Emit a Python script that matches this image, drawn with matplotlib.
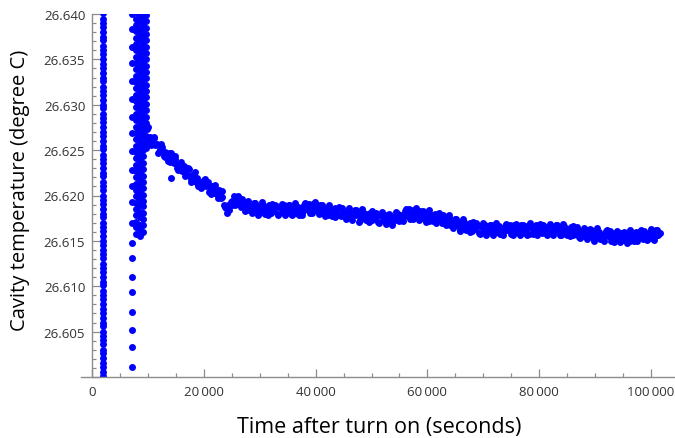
import numpy as np
import matplotlib
matplotlib.use('Agg')
from matplotlib import pyplot as plt
from matplotlib.ticker import MultipleLocator, FuncFormatter

plt.rcParams['font.family'] = ['Open Sans', 'DejaVu Sans']

# spike right after turn on (t ~ 2000 s), runs through the whole range
spike_a_time = 2000.0
spike_a_temp = [
    26.5996, 26.6001, 26.6006, 26.6011, 26.6015, 26.6021, 26.6026, 26.6030, 26.6036, 26.6041,
    26.6045, 26.6050, 26.6056, 26.6060, 26.6065, 26.6071, 26.6075, 26.6080, 26.6086, 26.6090,
    26.6095, 26.6101, 26.6105, 26.6110, 26.6116, 26.6120, 26.6125, 26.6131, 26.6135, 26.6140,
    26.6146, 26.6150, 26.6155, 26.6161, 26.6165, 26.6170, 26.6176, 26.6180, 26.6185, 26.6191,
    26.6195, 26.6200, 26.6206, 26.6210, 26.6215, 26.6221, 26.6225, 26.6230, 26.6236, 26.6240,
    26.6245, 26.6251, 26.6255, 26.6260, 26.6266, 26.6270, 26.6275, 26.6281, 26.6285, 26.6290,
    26.6296, 26.6300, 26.6305, 26.6311, 26.6315, 26.6320, 26.6326, 26.6330, 26.6335, 26.6341,
    26.6345, 26.6350, 26.6356, 26.6360, 26.6365, 26.6371, 26.6375, 26.6380, 26.6386, 26.6390,
    26.6395, 26.6401]

# sparse points at t ~ 7200 s
spike_b_time = 7200.0
spike_b_temp = [
    26.6400, 26.6383, 26.6364, 26.6346, 26.6326, 26.6306, 26.6287, 26.6269, 26.6249, 26.6228,
    26.6210, 26.6193, 26.6170, 26.6148, 26.6131, 26.6110, 26.6094, 26.6072, 26.6052, 26.6033,
    26.6011]

# dense block between 7900 and 9700 s
block_times = [7900.0, 8500.0, 9100.0, 9700.0]
block_c1 = [
    26.6158, 26.6165, 26.6171, 26.6179, 26.6185, 26.6192, 26.6200, 26.6206, 26.6213, 26.6220,
    26.6227, 26.6234, 26.6241, 26.6248, 26.6255, 26.6262, 26.6269, 26.6276, 26.6283, 26.6290,
    26.6297, 26.6304, 26.6311, 26.6318, 26.6325, 26.6332, 26.6339, 26.6346, 26.6353, 26.6360,
    26.6367, 26.6374, 26.6381, 26.6388, 26.6395, 26.6402]
block_c2 = [
    26.6155, 26.6162, 26.6168, 26.6176, 26.6182, 26.6189, 26.6196, 26.6203, 26.6210, 26.6217,
    26.6224, 26.6231, 26.6238, 26.6245, 26.6252, 26.6259, 26.6266, 26.6273, 26.6280, 26.6287,
    26.6294, 26.6301, 26.6308, 26.6315, 26.6322, 26.6329, 26.6336, 26.6343, 26.6350, 26.6357,
    26.6364, 26.6371, 26.6378, 26.6385, 26.6392, 26.6399, 26.6406]
block_c3 = [
    26.6160, 26.6167, 26.6174, 26.6181, 26.6188, 26.6194, 26.6201, 26.6208, 26.6215, 26.6222,
    26.6229, 26.6236, 26.6243, 26.6250, 26.6257, 26.6264, 26.6271, 26.6278, 26.6285, 26.6292,
    26.6299, 26.6306, 26.6313, 26.6320, 26.6327, 26.6334, 26.6341, 26.6348, 26.6355, 26.6362,
    26.6369, 26.6376, 26.6383, 26.6390, 26.6397, 26.6404]
block_c4 = [
    26.6252, 26.6259, 26.6266, 26.6273, 26.6280, 26.6287, 26.6294, 26.6301, 26.6308, 26.6315,
    26.6322, 26.6329, 26.6336, 26.6343, 26.6350, 26.6357, 26.6364, 26.6371, 26.6378, 26.6385,
    26.6392, 26.6399, 26.6406]

# settling curve, one sample every 300 s from 9800 s
curve_start = 9800.0
curve_step = 300.0
curve_temp = [
    26.6273, 26.6263, 26.6264, 26.6259, 26.6264, 26.6256, 26.6257, 26.6248, 26.6251, 26.6253,
    26.6244, 26.6248, 26.6243, 26.6247, 26.6237, 26.6241, 26.6236, 26.6240, 26.6230, 26.6235,
    26.6232, 26.6227, 26.6232, 26.6227, 26.6223, 26.6229, 26.6218, 26.6223, 26.6219, 26.6215,
    26.6219, 26.6211, 26.6215, 26.6211, 26.6217, 26.6210, 26.6212, 26.6204, 26.6208, 26.6211,
    26.6203, 26.6207, 26.6202, 26.6206, 26.6197, 26.6198, 26.6190, 26.6186, 26.6181, 26.6184,
    26.6193, 26.6194, 26.6200, 26.6194, 26.6191, 26.6197, 26.6187, 26.6192, 26.6188, 26.6186,
    26.6191, 26.6184, 26.6188, 26.6185, 26.6192, 26.6185, 26.6188, 26.6181, 26.6186, 26.6189,
    26.6182, 26.6187, 26.6184, 26.6189, 26.6181, 26.6186, 26.6183, 26.6188, 26.6180, 26.6187,
    26.6186, 26.6182, 26.6189, 26.6185, 26.6183, 26.6189, 26.6180, 26.6186, 26.6183, 26.6181,
    26.6187, 26.6181, 26.6186, 26.6183, 26.6190, 26.6185, 26.6188, 26.6181, 26.6187, 26.6191,
    26.6184, 26.6189, 26.6185, 26.6189, 26.6181, 26.6186, 26.6182, 26.6186, 26.6178, 26.6185,
    26.6183, 26.6179, 26.6186, 26.6182, 26.6179, 26.6186, 26.6177, 26.6182, 26.6180, 26.6177,
    26.6183, 26.6176, 26.6181, 26.6178, 26.6184, 26.6178, 26.6181, 26.6173, 26.6178, 26.6182,
    26.6175, 26.6180, 26.6177, 26.6181, 26.6173, 26.6178, 26.6175, 26.6179, 26.6171, 26.6178,
    26.6177, 26.6173, 26.6179, 26.6175, 26.6172, 26.6178, 26.6170, 26.6176, 26.6175, 26.6173,
    26.6180, 26.6174, 26.6179, 26.6177, 26.6183, 26.6177, 26.6181, 26.6174, 26.6180, 26.6184,
    26.6177, 26.6182, 26.6178, 26.6183, 26.6175, 26.6180, 26.6176, 26.6180, 26.6172, 26.6179,
    26.6178, 26.6173, 26.6180, 26.6175, 26.6173, 26.6179, 26.6170, 26.6176, 26.6172, 26.6170,
    26.6175, 26.6167, 26.6172, 26.6168, 26.6174, 26.6168, 26.6170, 26.6162, 26.6167, 26.6171,
    26.6163, 26.6168, 26.6165, 26.6170, 26.6161, 26.6166, 26.6163, 26.6167, 26.6159, 26.6166,
    26.6165, 26.6161, 26.6168, 26.6164, 26.6161, 26.6168, 26.6159, 26.6165, 26.6162, 26.6160,
    26.6166, 26.6159, 26.6164, 26.6161, 26.6168, 26.6162, 26.6165, 26.6158, 26.6163, 26.6167,
    26.6160, 26.6165, 26.6162, 26.6167, 26.6159, 26.6164, 26.6161, 26.6166, 26.6158, 26.6165,
    26.6164, 26.6160, 26.6167, 26.6163, 26.6161, 26.6168, 26.6159, 26.6165, 26.6162, 26.6160,
    26.6166, 26.6159, 26.6165, 26.6161, 26.6168, 26.6161, 26.6164, 26.6157, 26.6162, 26.6166,
    26.6158, 26.6163, 26.6160, 26.6165, 26.6156, 26.6161, 26.6158, 26.6162, 26.6154, 26.6161,
    26.6159, 26.6155, 26.6162, 26.6158, 26.6156, 26.6162, 26.6153, 26.6159, 26.6156, 26.6154,
    26.6160, 26.6153, 26.6157, 26.6155, 26.6161, 26.6155, 26.6157, 26.6150, 26.6155, 26.6159,
    26.6152, 26.6157, 26.6154, 26.6159, 26.6151, 26.6156, 26.6153, 26.6158, 26.6150, 26.6157,
    26.6157, 26.6153, 26.6160, 26.6156, 26.6154, 26.6161, 26.6152, 26.6159, 26.6156, 26.6154,
    26.6160, 26.6153, 26.6158, 26.6155, 26.6162, 26.6156, 26.6159]

# outer edge readings of the same curve, one every 600 s from 9950 s
edge_start = 9950.0
edge_step = 600.0
edge_temp = [
    26.6275, 26.6256, 26.6263, 26.6247, 26.6257, 26.6242, 26.6238, 26.6247, 26.6243, 26.6228,
    26.6237, 26.6222, 26.6230, 26.6215, 26.6226, 26.6211, 26.6208, 26.6218, 26.6215, 26.6202,
    26.6212, 26.6197, 26.6205, 26.6187, 26.6189, 26.6189, 26.6189, 26.6199, 26.6196, 26.6183,
    26.6194, 26.6181, 26.6192, 26.6179, 26.6193, 26.6180, 26.6179, 26.6191, 26.6190, 26.6179,
    26.6191, 26.6179, 26.6190, 26.6178, 26.6192, 26.6179, 26.6179, 26.6192, 26.6191, 26.6181,
    26.6193, 26.6180, 26.6190, 26.6177, 26.6190, 26.6177, 26.6176, 26.6187, 26.6186, 26.6174,
    26.6186, 26.6173, 26.6184, 26.6171, 26.6185, 26.6173, 26.6171, 26.6183, 26.6181, 26.6170,
    26.6182, 26.6169, 26.6180, 26.6167, 26.6182, 26.6172, 26.6172, 26.6185, 26.6185, 26.6174,
    26.6186, 26.6173, 26.6183, 26.6171, 26.6184, 26.6172, 26.6170, 26.6181, 26.6179, 26.6167,
    26.6178, 26.6164, 26.6174, 26.6161, 26.6174, 26.6162, 26.6160, 26.6171, 26.6170, 26.6158,
    26.6170, 26.6157, 26.6168, 26.6156, 26.6170, 26.6158, 26.6157, 26.6169, 26.6168, 26.6157,
    26.6169, 26.6157, 26.6168, 26.6156, 26.6170, 26.6158, 26.6157, 26.6169, 26.6168, 26.6157,
    26.6169, 26.6157, 26.6168, 26.6156, 26.6169, 26.6157, 26.6155, 26.6166, 26.6165, 26.6153,
    26.6164, 26.6152, 26.6163, 26.6150, 26.6164, 26.6152, 26.6150, 26.6162, 26.6161, 26.6149,
    26.6161, 26.6149, 26.6160, 26.6148, 26.6162, 26.6150, 26.6150, 26.6162, 26.6161, 26.6151,
    26.6163, 26.6151, 26.6162]

# lone point below the curve
stray_time = [14100.0]
stray_temp = [26.6219]

blue = (0.0, 0.0, 1.0)
axis_grey = '#8c8c8c'
label_grey = '#333333'

fig = plt.figure(figsize=(6.75, 4.39), dpi=100)
ax = fig.add_axes([81 / 675, 1 - 378 / 439, 595 / 675, 363 / 439])

dot = dict(linestyle='none', marker='o', markersize=5.0, markeredgewidth=0, color=blue)

ax.plot(np.full(len(spike_a_temp), spike_a_time), spike_a_temp, **dot)
ax.plot(np.full(len(spike_b_temp), spike_b_time), spike_b_temp, **dot)
for t, col in zip(block_times, [block_c1, block_c2, block_c3, block_c4]):
    ax.plot(np.full(len(col), t), col, **dot)
curve_time = curve_start + curve_step * np.arange(len(curve_temp))
ax.plot(curve_time, curve_temp, **dot)
edge_time = edge_start + edge_step * np.arange(len(edge_temp))
ax.plot(edge_time, edge_temp, **dot)
ax.plot(stray_time, stray_temp, **dot)

ax.set_xlim(-2000, 104500)
ax.set_ylim(26.600, 26.640)

ax.spines['top'].set_visible(False)
ax.spines['right'].set_visible(False)
ax.spines['left'].set_position(('data', 0))
for s in ['left', 'bottom']:
    ax.spines[s].set_color(axis_grey)
    ax.spines[s].set_linewidth(1.0)

ax.xaxis.set_major_locator(MultipleLocator(20000))
ax.xaxis.set_minor_locator(MultipleLocator(5000))
ax.yaxis.set_major_locator(MultipleLocator(0.005))
ax.yaxis.set_minor_locator(MultipleLocator(0.001))

def fmt_x(v, pos):
    s = '{:,.0f}'.format(v)
    return s.replace(',', '\u2009')

def fmt_y(v, pos):
    if abs(v - 26.600) < 1e-6:
        return ''
    return '{:.3f}'.format(v)

ax.xaxis.set_major_formatter(FuncFormatter(fmt_x))
ax.yaxis.set_major_formatter(FuncFormatter(fmt_y))

ax.tick_params(which='both', direction='in', color=axis_grey, width=0.9,
               labelsize=9.5, labelcolor=label_grey)
ax.tick_params(which='major', length=5.5)
ax.tick_params(which='minor', length=3)
ax.tick_params(axis='x', pad=6)
ax.tick_params(axis='y', pad=5)

fig.text(379 / 675, 1 - 428 / 439, 'Time after turn on (seconds)', ha='center', va='center',
         fontsize=15.5, color='black')
fig.text(20 / 675, 1 - 190 / 439, 'Cavity temperature (degree C)', ha='center', va='center',
         rotation=90, fontsize=14.5, color='black')

fig.savefig('out.png', dpi=100)
